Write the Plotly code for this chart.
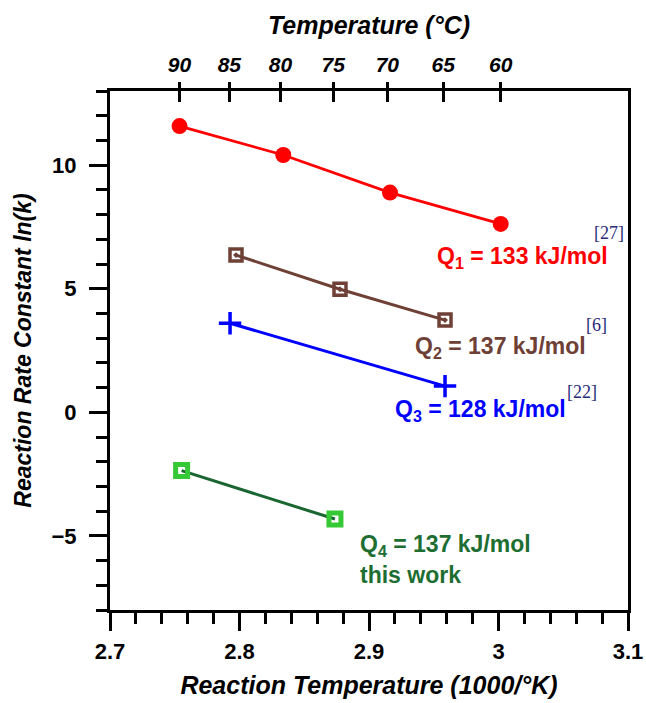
import plotly.graph_objects as go

# ---- data ----
q1_x = [2.7537, 2.8338, 2.9162, 3.0017]
q1_y = [11.58, 10.41, 8.89, 7.62]
q2_x = [2.7973, 2.8776, 2.9587]
q2_y = [6.36, 4.98, 3.73]
q3_x = [2.7927, 2.9587]
q3_y = [3.60, 1.06]
q4_x = [2.7553, 2.8737]
q4_y = [-2.36, -4.32]
temps_c = [90, 85, 80, 75, 70, 65, 60]
top_vals = [1000.0 / (t + 273.15) for t in temps_c]
top_text = [str(t) for t in temps_c]

FONT = "Liberation Sans, Arial, sans-serif"
SERIF = "Liberation Serif, Times New Roman, serif"
RED = "#ff0000"
BROWN = "#6e4036"
BLUE = "#0000ff"
GREEN_LINE = "#1a6630"
GREEN_MARK = "#35c935"
GREEN_TEXT = "#1e6e32"
REF = "#2a2a7a"

fig = go.Figure()
fig.add_trace(go.Scatter(x=q1_x, y=q1_y, mode="lines+markers",
                         line=dict(color=RED, width=2.8),
                         marker=dict(symbol="circle", size=16, color=RED),
                         showlegend=False))
fig.add_trace(go.Scatter(x=q2_x, y=q2_y, mode="lines+markers",
                         line=dict(color=BROWN, width=3),
                         marker=dict(symbol="square-open-dot", size=12, color=BROWN,
                                     line=dict(color=BROWN, width=3.5)),
                         showlegend=False))
fig.add_trace(go.Scatter(x=q3_x, y=q3_y, mode="lines+markers",
                         line=dict(color=BLUE, width=3),
                         marker=dict(symbol="cross-thin", size=16, color=BLUE,
                                     line=dict(color=BLUE, width=3.5)),
                         showlegend=False))
fig.add_trace(go.Scatter(x=q4_x, y=q4_y, mode="lines",
                         line=dict(color=GREEN_LINE, width=3),
                         showlegend=False))
fig.add_trace(go.Scatter(x=q4_x, y=q4_y, mode="markers",
                         marker=dict(symbol="square-open", size=12, color=GREEN_MARK,
                                     line=dict(color=GREEN_MARK, width=5)),
                         showlegend=False))
# invisible traces to attach top axes
fig.add_trace(go.Scatter(x=q1_x, y=q1_y, xaxis="x2", mode="markers",
                         marker=dict(opacity=0), hoverinfo="skip", showlegend=False))
fig.add_trace(go.Scatter(x=q1_x, y=q1_y, xaxis="x3", mode="markers",
                         marker=dict(opacity=0), hoverinfo="skip", showlegend=False))

xr = [2.7, 3.1]
fig.update_layout(
    width=646, height=703,
    margin=dict(l=110, r=18, t=91, b=93),
    plot_bgcolor="white", paper_bgcolor="white",
    font=dict(family=FONT, color="black"),
    xaxis=dict(range=xr, tick0=2.7, dtick=0.1, ticks="outside", ticklen=18,
               tickwidth=3, tickcolor="black", showline=True, linewidth=3,
               linecolor="black", mirror=True, showgrid=False, zeroline=False,
               automargin=False,
               minor=dict(dtick=0.02, ticks="outside", ticklen=11, tickwidth=3,
                          tickcolor="black", showgrid=False),
               tickfont=dict(size=22, weight="bold"), ticklabelstandoff=2,
               title=dict(text="Reaction Temperature (1000/°K)",
                          font=dict(size=25, weight="bold", style="italic"),
                          standoff=14)),
    xaxis2=dict(range=xr, overlaying="x", side="top", tickmode="array",
                tickvals=top_vals, ticktext=top_text, ticks="outside", ticklen=8,
                tickwidth=3, tickcolor="black", showline=False, showgrid=False,
                zeroline=False, ticklabelstandoff=2, automargin=False,
                tickfont=dict(size=21, weight="bold", style="italic"),
                title=dict(text="Temperature (°C)",
                           font=dict(size=25, weight="bold", style="italic"),
                           standoff=10)),
    xaxis3=dict(range=xr, overlaying="x", side="top", tickmode="array",
                tickvals=top_vals, ticks="inside", ticklen=11, tickwidth=3,
                tickcolor="black", showticklabels=False, showline=False,
                showgrid=False, zeroline=False, automargin=False),
    yaxis=dict(range=[-8, 13], tick0=0, dtick=5, ticks="outside", ticklen=18,
               tickwidth=3, tickcolor="black", showline=True, linewidth=3,
               linecolor="black", mirror=True, showgrid=False, zeroline=False,
               automargin=False,
               minor=dict(dtick=1, ticks="outside", ticklen=11, tickwidth=3,
                          tickcolor="black", showgrid=False),
               tickfont=dict(size=22, weight="bold"), ticklabelstandoff=8,
               title=dict(text="Reaction Rate Constant ln(k)",
                          font=dict(size=23, weight="bold", style="italic"),
                          standoff=14)),
)

def ann(x, y, text, color, size=23, family=FONT, weight="bold"):
    fig.add_annotation(x=x, y=y, xref="x", yref="y", text=text, showarrow=False,
                       xanchor="left", yanchor="middle",
                       font=dict(family=family, size=size, color=color, weight=weight))

ann(2.951, 6.28, "Q<sub>1</sub> = 133 kJ/mol", RED)
ann(3.072, 7.25, "[27]", REF, size=18, family=SERIF, weight="normal")
ann(2.934, 2.64, "Q<sub>2</sub> = 137 kJ/mol", BROWN)
ann(3.066, 3.53, "[6]", REF, size=18, family=SERIF, weight="normal")
ann(2.9185, 0.09, "Q<sub>3</sub> = 128 kJ/mol", BLUE)
ann(3.0514, 0.82, "[22]", REF, size=18, family=SERIF, weight="normal")
ann(2.8915, -5.37, "Q<sub>4</sub> = 137 kJ/mol", GREEN_TEXT)
ann(2.8915, -6.58, "this work", GREEN_TEXT)

fig.write_html("out.html")
